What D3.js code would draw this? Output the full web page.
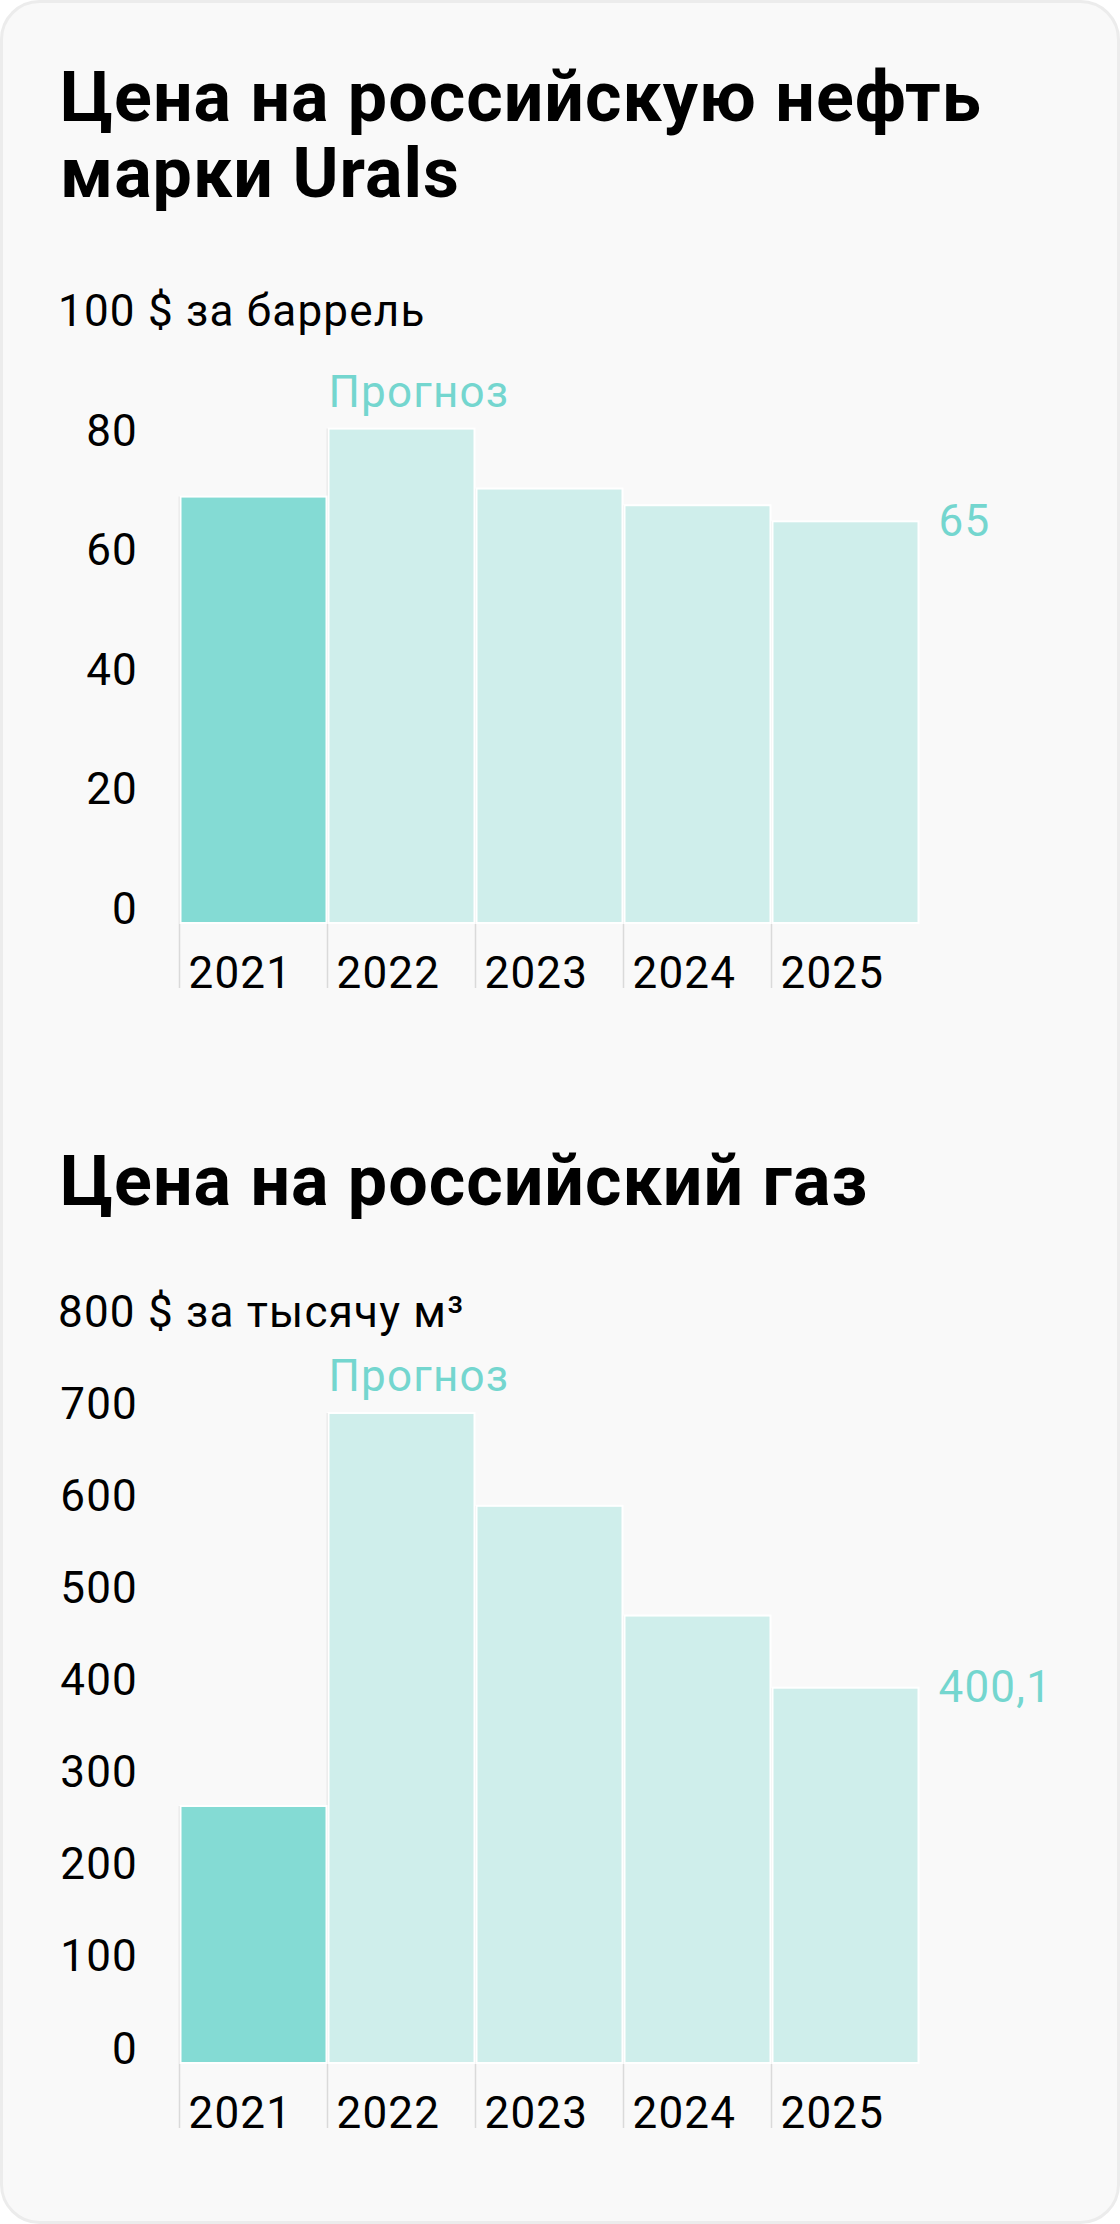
<!DOCTYPE html>
<html>
<head>
<meta charset="utf-8">
<script src="https://cdn.jsdelivr.net/npm/d3@7"></script>
<style>
    body { margin: 0; background: #ffffff; }
    svg { display: block; font-family: Roboto, "Noto Sans", sans-serif; }
</style>
</head>
<body>
<div id="chart"></div>
<script>
//data
var years = ["2021", "2022", "2023", "2024", "2025"];
var oilValues = [69, 80, 70.3, 67.6, 65];
var gasValues = [274, 693, 594, 477, 400.1];
var oilTicks = [0, 20, 40, 60, 80, 100];
var gasTicks = [0, 100, 200, 300, 400, 500, 600, 700, 800];
var oilTitle = ["Цена на российскую нефть", "марки Urals"];
var gasTitle = ["Цена на российский газ"];
var oilUnit = "$ за баррель";
var gasUnit = "$ за тысячу м³";
var forecastLabel = "Прогноз";
var lastOilLabel = "65";
var lastGasLabel = "400,1";

//svg dimensions
var svgWidth = 1120;
var svgHeight = 2224;

//colours
var factColor = "#84dbd4";
var forecastColor = "#cfeeeb";
var accentText = "#74d6cf";

//text spacing to widen roboto a little
var bodySpacing = "1.2px";

var svg = d3.select("#chart")
    .append("svg")
    .attr("width", svgWidth)
    .attr("height", svgHeight);

//card background
svg.append("rect")
    .attr("x", 1.5)
    .attr("y", 1.5)
    .attr("width", svgWidth - 3)
    .attr("height", svgHeight - 3)
    .attr("rx", 38)
    .attr("fill", "#f9f9f9")
    .attr("stroke", "#ececec")
    .attr("stroke-width", 3);

//shared x scale for both charts
var xScale = d3.scaleBand()
    .domain(years)
    .range([179.5, 919.5])
    .padding(0);

//draws one bar chart block
function drawChart(opts) {
    var g = svg.append("g");

    //title lines
    g.selectAll(".title")
        .data(opts.title)
        .enter()
        .append("text")
        .attr("x", 60)
        .attr("y", (d, i) => opts.titleY + i * 76)
        .attr("font-size", "70px")
        .attr("font-weight", 700)
        .attr("letter-spacing", "1px")
        .attr("fill", "#000")
        .text(d => d);

    //y scale for bars
    var yScale = d3.scaleLinear()
        .domain([0, opts.max])
        .range([opts.base, opts.top]);

    //y scale for tick label baselines
    var labelScale = d3.scaleLinear()
        .domain([0, opts.max])
        .range([opts.base, opts.labelTop]);

    var yAxis = g.append("g")
        .attr("transform", "translate(138, 0)")
        .call(d3.axisLeft(labelScale)
            .tickValues(opts.ticks)
            .tickSize(0)
            .tickPadding(0)
            .tickFormat(d => d === opts.max ? d + " " + opts.unit : d));

    yAxis.select(".domain").remove();
    yAxis.selectAll("text")
        .attr("dy", 0)
        .attr("font-size", "44px")
        .attr("font-family", "Roboto, sans-serif")
        .attr("letter-spacing", bodySpacing)
        .attr("fill", "#000");

    //top label runs left to right with its unit
    yAxis.selectAll(".tick")
        .filter(d => d === opts.max)
        .select("text")
        .attr("text-anchor", "start")
        .attr("x", 58 - 138);

    //tick lines under bars
    g.selectAll(".tickline")
        .data(years)
        .enter()
        .append("line")
        .attr("x1", d => xScale(d))
        .attr("x2", d => xScale(d))
        .attr("y1", (d, i) => yScale(opts.values[i]))
        .attr("y2", opts.base + 65)
        .attr("stroke", "#dadada")
        .attr("stroke-width", 1.5);

    //bars
    g.selectAll(".bar")
        .data(years)
        .enter()
        .append("rect")
        .attr("x", d => xScale(d) + 1)
        .attr("width", xScale.bandwidth() - 2)
        .attr("y", (d, i) => yScale(opts.values[i]))
        .attr("height", (d, i) => opts.base - yScale(opts.values[i]))
        .attr("fill", (d, i) => i === 0 ? factColor : forecastColor)
        .attr("stroke", "#ffffff")
        .attr("stroke-width", 2);

    //year labels
    g.selectAll(".year")
        .data(years)
        .enter()
        .append("text")
        .attr("x", d => xScale(d) + 9)
        .attr("y", opts.base + 65)
        .attr("font-size", "44px")
        .attr("letter-spacing", bodySpacing)
        .attr("fill", "#000")
        .text(d => d);

    //forecast label above first forecast bar
    g.append("text")
        .attr("x", xScale(years[1]) + 1)
        .attr("y", yScale(opts.values[1]) - 22)
        .attr("font-size", "44px")
        .attr("letter-spacing", bodySpacing)
        .attr("fill", accentText)
        .text(forecastLabel);

    //last value label
    var last = opts.values.length - 1;
    g.append("text")
        .attr("x", xScale(years[last]) + xScale.bandwidth() + 19)
        .attr("y", yScale(opts.values[last]))
        .attr("dy", "0.33em")
        .attr("font-size", "44px")
        .attr("letter-spacing", bodySpacing)
        .attr("fill", accentText)
        .text(opts.lastLabel);
}

drawChart({
    title: oilTitle,
    titleY: 121,
    values: oilValues,
    ticks: oilTicks,
    max: 100,
    unit: oilUnit,
    base: 923,
    top: 305,
    labelTop: 325.5,
    lastLabel: lastOilLabel
});

drawChart({
    title: gasTitle,
    titleY: 1205,
    values: gasValues,
    ticks: gasTicks,
    max: 800,
    unit: gasUnit,
    base: 2063,
    top: 1312.6,
    labelTop: 1326.7,
    lastLabel: lastGasLabel
});
</script>
</body>
</html>
